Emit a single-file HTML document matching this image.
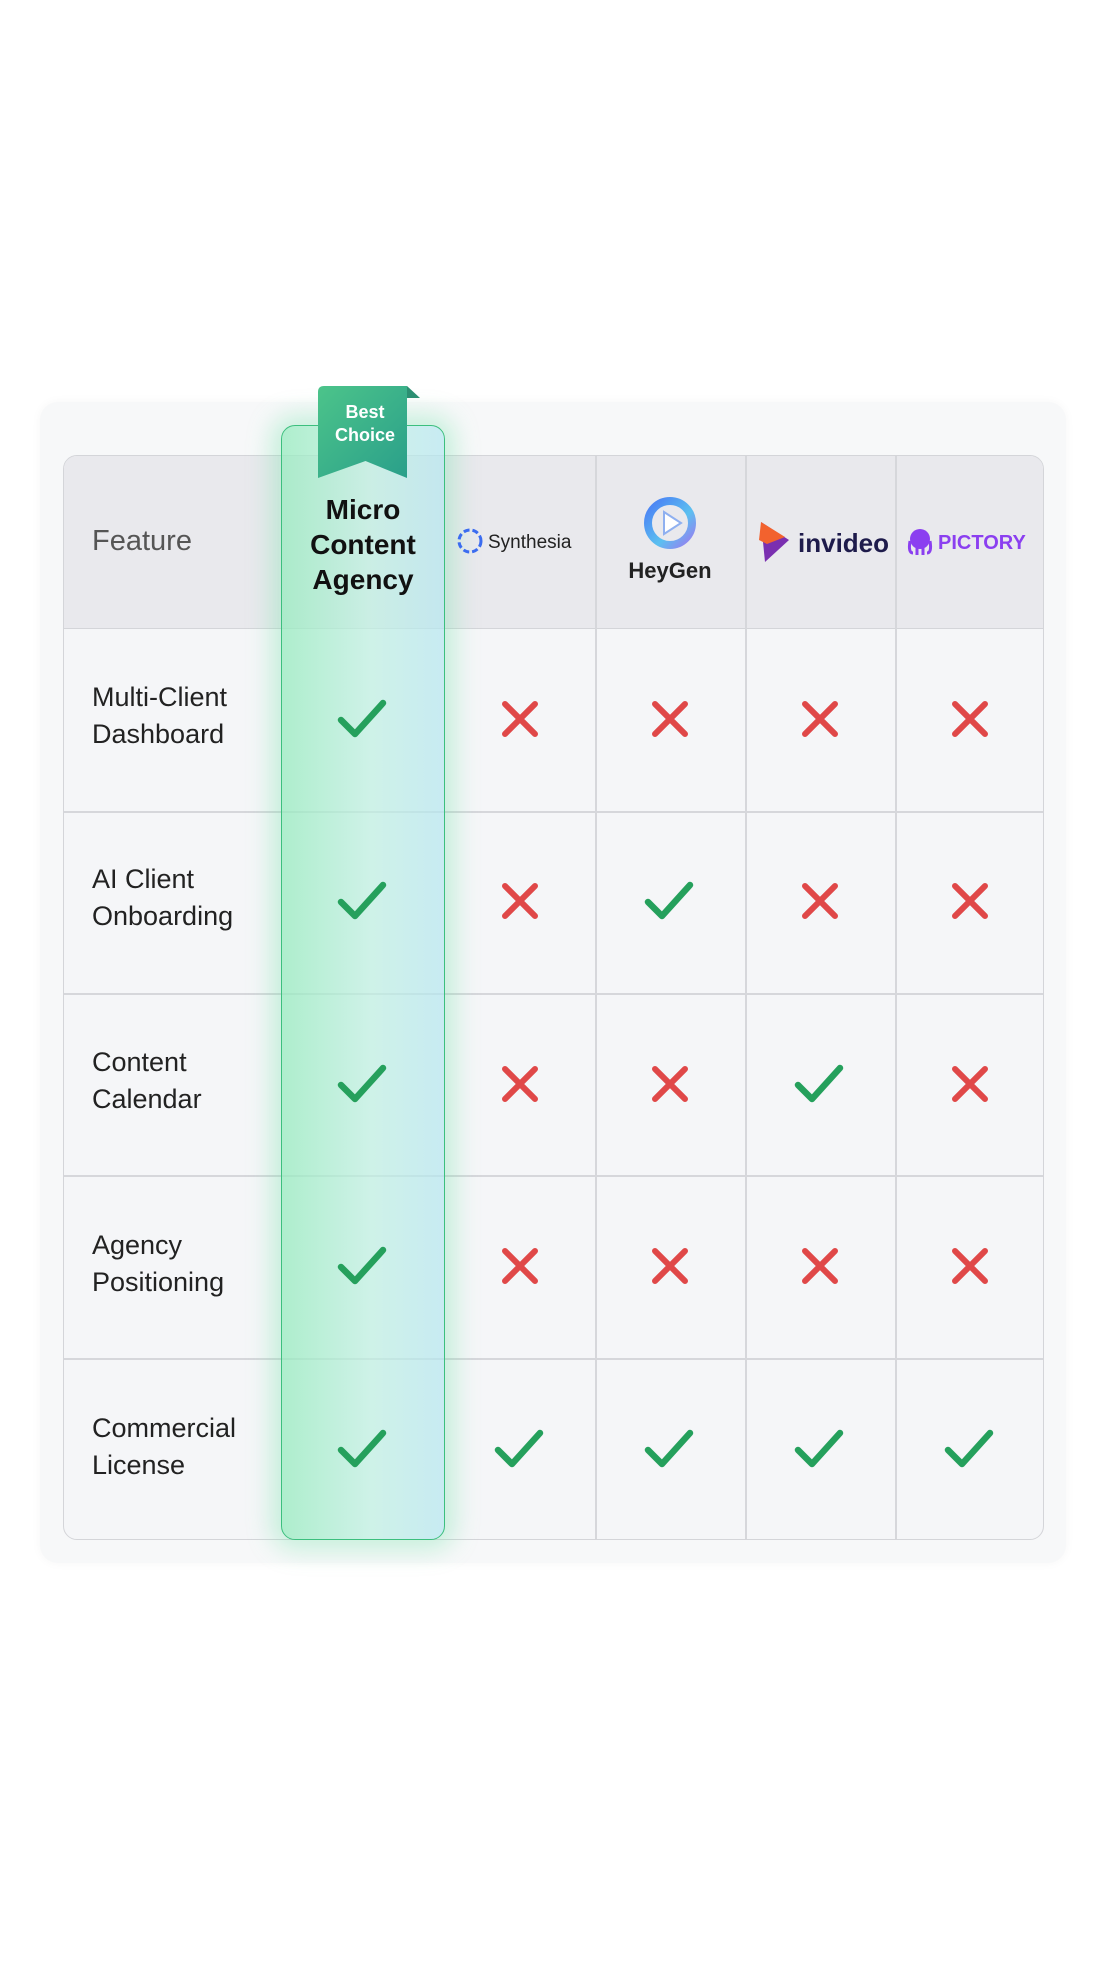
<!DOCTYPE html>
<html><head><meta charset="utf-8"><style>
*{margin:0;padding:0;box-sizing:border-box}
body{width:1106px;height:1982px;background:#fff;position:relative;font-family:"Liberation Sans",sans-serif;overflow:hidden}
.abs{position:absolute}
.card{left:40px;top:402px;width:1026px;height:1161px;border-radius:18px;background:#f7f8f9;box-shadow:0 0 10px rgba(0,0,0,0.04)}
.table{left:63px;top:455px;width:981px;height:1085px;border:1.5px solid #d4d5d9;border-radius:14px;background:#f5f6f8;overflow:hidden}
.hdr{left:0;top:0;width:981px;height:173px;background:#e9e9ed;border-bottom:1.5px solid #d4d5d9}
.hl{height:1.5px;background:#d6d7db;left:0;width:981px}
.vl{width:1.5px;background:#d6d7db;top:0;height:1085px}
.lbl{left:28px;font-size:27px;color:#222;line-height:37px}
.green{left:281px;top:425px;width:164px;height:1115px;border:1.5px solid #3cbf7e;border-radius:14px;background:linear-gradient(90deg,rgba(150,235,190,0.75),rgba(190,240,225,0.7) 55%,rgba(180,230,240,0.7));box-shadow:0 0 24px 10px rgba(110,225,165,0.35)}
.ic{position:absolute}
</style></head><body>
<div class="abs card"></div>
<div class="abs table">
 <div class="abs hdr"></div>
 <div class="abs hl" style="top:355px"></div>
 <div class="abs hl" style="top:537px"></div>
 <div class="abs hl" style="top:719px"></div>
 <div class="abs hl" style="top:902px"></div>
 <div class="abs vl" style="left:531px"></div>
 <div class="abs vl" style="left:681px"></div>
 <div class="abs vl" style="left:831px"></div>
 <div class="abs" style="left:28px;top:69px;font-size:29px;color:#555">Feature</div>
 <div class="abs lbl" style="top:223px">Multi-Client<br>Dashboard</div>
 <div class="abs lbl" style="top:405px">AI Client<br>Onboarding</div>
 <div class="abs lbl" style="top:588px">Content<br>Calendar</div>
 <div class="abs lbl" style="top:771px">Agency<br>Positioning</div>
 <div class="abs lbl" style="top:954px">Commercial<br>License</div>
</div>
<div class="abs green"></div>
<!-- ribbon -->
<svg class="abs" style="left:316px;top:384px" width="106" height="100">
 <defs><linearGradient id="rg" x1="0" y1="0" x2="1" y2="1"><stop offset="0" stop-color="#4cc48a"/><stop offset="1" stop-color="#2a9f8a"/></linearGradient></defs>
 <polygon points="91,2 104,14 91,14" fill="#2c8f72"/>
 <path d="M8,2 H91 V94 L49.5,77 L2,94 V8 Q2,2 8,2Z" fill="url(#rg)"/>
 <text x="49" y="34" text-anchor="middle" font-family="Liberation Sans" font-weight="bold" font-size="18" fill="#fff">Best</text>
 <text x="49" y="57" text-anchor="middle" font-family="Liberation Sans" font-weight="bold" font-size="18" fill="#fff">Choice</text>
</svg>
<div class="abs" style="left:281px;top:492px;width:164px;text-align:center;font-size:28px;font-weight:bold;line-height:35px;color:#111">Micro<br>Content<br>Agency</div>
<!-- logos -->
<svg class="abs" style="left:455px;top:525px" width="140" height="36">
 <circle cx="15" cy="16" r="11" fill="none" stroke="#3b6cf0" stroke-width="3" stroke-dasharray="6 3"/>
 <text x="33" y="23" font-family="Liberation Sans" font-size="19" fill="#222">Synthesia</text>
</svg>
<svg class="abs" style="left:640px;top:495px" width="60" height="60">
 <defs><linearGradient id="hg" x1="0" y1="0" x2="1" y2="1"><stop offset="0" stop-color="#4a7cf5"/><stop offset="0.6" stop-color="#5bc0f0"/><stop offset="1" stop-color="#9a7cf0"/></linearGradient></defs>
 <circle cx="30" cy="28" r="22" fill="none" stroke="url(#hg)" stroke-width="8"/>
 <polygon points="24,17 41,28 24,39" fill="#fff" stroke="#8fb0f0" stroke-width="2"/>
</svg>
<div class="abs" style="left:595px;top:558px;width:150px;text-align:center;font-size:22px;font-weight:bold;color:#222">HeyGen</div>
<svg class="abs" style="left:755px;top:520px" width="140" height="46">
 <polygon points="6,2 34,20 10,42" fill="#7a2fb0"/>
 <polygon points="6,2 30,17 12,24 4,20" fill="#f2622e"/>
 <text x="43" y="32" font-family="Liberation Sans" font-weight="bold" font-size="26" fill="#1e1b4b">invideo</text>
</svg>
<svg class="abs" style="left:905px;top:525px" width="140" height="36">
 <circle cx="15" cy="14" r="10" fill="#8b3ff0"/>
 <path d="M5,16 Q3,28 8,28 M12,18 V30 M18,18 V30 M25,16 Q27,28 22,28" stroke="#8b3ff0" stroke-width="3" fill="none"/>
 <text x="33" y="24" font-family="Liberation Sans" font-weight="bold" font-size="20" fill="#8b3ff0">PICTORY</text>
</svg>
<!-- marks -->
<svg class="abs" style="left:0;top:0" width="1106" height="1982">
 <defs>
  <g id="ck"><path d="M-22,1 L-8,15 L20,-16" stroke="#25a05c" stroke-width="6.5" fill="none" stroke-linecap="round" stroke-linejoin="round"/></g>
  <g id="xx"><path d="M-15,-15 L15,15 M15,-15 L-15,15" stroke="#e04848" stroke-width="6" stroke-linecap="round"/></g>
 </defs>
 <use href="#ck" x="363" y="719"/><use href="#xx" x="520" y="719"/><use href="#xx" x="670" y="719"/><use href="#xx" x="820" y="719"/><use href="#xx" x="970" y="719"/>
 <use href="#ck" x="363" y="901"/><use href="#xx" x="520" y="901"/><use href="#ck" x="670" y="901"/><use href="#xx" x="820" y="901"/><use href="#xx" x="970" y="901"/>
 <use href="#ck" x="363" y="1084"/><use href="#xx" x="520" y="1084"/><use href="#xx" x="670" y="1084"/><use href="#ck" x="820" y="1084"/><use href="#xx" x="970" y="1084"/>
 <use href="#ck" x="363" y="1266"/><use href="#xx" x="520" y="1266"/><use href="#xx" x="670" y="1266"/><use href="#xx" x="820" y="1266"/><use href="#xx" x="970" y="1266"/>
 <use href="#ck" x="363" y="1449"/><use href="#ck" x="520" y="1449"/><use href="#ck" x="670" y="1449"/><use href="#ck" x="820" y="1449"/><use href="#ck" x="970" y="1449"/>
</svg>
</body></html>
